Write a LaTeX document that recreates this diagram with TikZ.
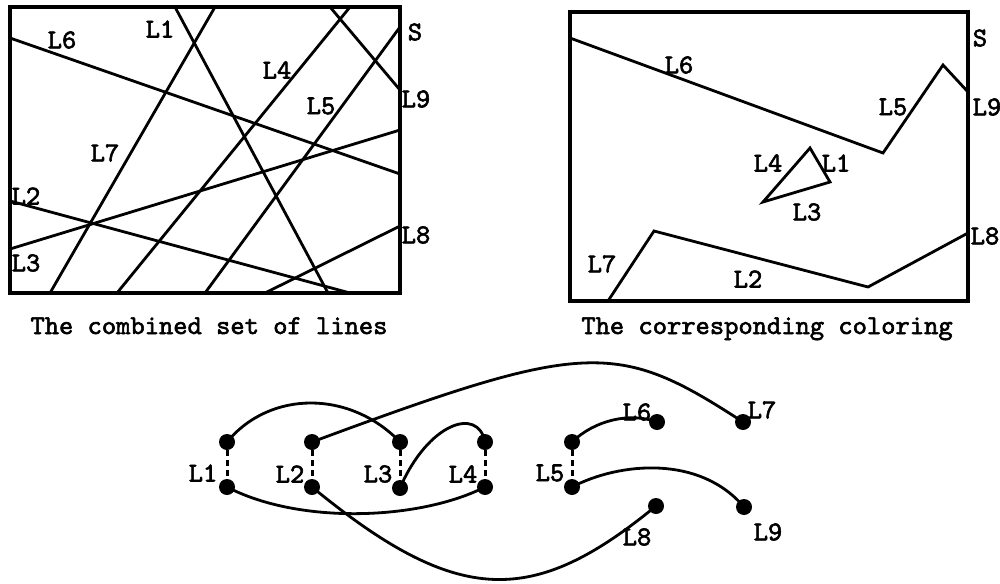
\documentclass[tikz,border=0pt]{standalone}
\usepackage{fontspec}
\newfontfamily\labfont{lmmono10-regular}[Extension=.otf, FakeBold=2.2]
\begin{document}
\begin{tikzpicture}[x=1pt,y=-1pt,
  lbl/.style={font=\labfont\bfseries\fontsize{27.2}{30}\selectfont, inner sep=0pt},
  captxt/.style={lbl, anchor=base},
  frame/.style={line width=3.2pt, line join=miter},
  seg/.style={line width=2.8pt, line cap=round, line join=miter},
  dot/.style={circle, fill=black, minimum size=16pt, inner sep=0pt},
  link/.style={line width=2.8pt},
  tie/.style={line width=3pt, dash pattern=on 6pt off 4pt}]
\useasboundingbox (0,0) rectangle (1000,583);

% ---------- left box: combined set of lines ----------
\draw[frame] (10,7) rectangle (400,293);
\draw[seg] (10,38) -- (400,174);   % L6
\draw[seg] (175,7) -- (328,293);   % L1
\draw[seg] (50,293) -- (215,7);    % L7
\draw[seg] (117,293) -- (350,7);   % L4
\draw[seg] (205,293) -- (400,27);  % L5
\draw[seg] (330,7) -- (400,90);    % L9
\draw[seg] (10,249) -- (400,130);  % L3
\draw[seg] (10,201) -- (350,293);  % L2
\draw[seg] (265,293) -- (400,226); % L8
\node[lbl] (tl1) at (160,29) {L1};
\node[lbl] (tl6) at (62,40) {L6};
\node[lbl] (tl7) at (105,153) {L7};
\node[lbl] (tl2) at (26,196) {L2};
\node[lbl] (tl3) at (26,263) {L3};
\node[lbl] (tl4) at (277,70) {L4};
\node[lbl] (tl5) at (321,106) {L5};
\node[lbl] (tls) at (415,32) {S};
\node[lbl] (tl9) at (416,99) {L9};
\node[lbl] (tl8) at (416,235) {L8};
\node[captxt] (capl) at (209,334) {The combined set of lines};

% ---------- right box: corresponding coloring ----------
\draw[frame] (570,12) rectangle (968,301);
\draw[seg] (570,38) -- (883,153) -- (943,65) -- (968,92);
\draw[seg] (763,202) -- (810,148) -- (830,182) -- cycle;
\draw[seg] (608,301) -- (654,231) -- (868,287) -- (968,233);
\node[lbl] (rl6) at (679,65) {L6};
\node[lbl] (rl5) at (893,107) {L5};
\node[lbl] (rls) at (980,38) {S};
\node[lbl] (rl9) at (987,107) {L9};
\node[lbl] (rl4) at (768,163) {L4};
\node[lbl] (rl1) at (836,163) {L1};
\node[lbl] (rl3) at (807,212) {L3};
\node[lbl] (rl7) at (602,264) {L7};
\node[lbl] (rl2) at (748,279) {L2};
\node[lbl] (rl8) at (985,236) {L8};
\node[captxt] (capr) at (767,334) {The corresponding coloring};

% ---------- bottom graph ----------
\node[dot] (a1t) at (227,442) {};
\node[dot] (a1b) at (227,487) {};
\node[dot] (a2t) at (312,442) {};
\node[dot] (a2b) at (312,487) {};
\node[dot] (a3t) at (400,442) {};
\node[dot] (a3b) at (400,488) {};
\node[dot] (a4t) at (485,442) {};
\node[dot] (a4b) at (485,487) {};
\node[dot] (a5t) at (572,442) {};
\node[dot] (a5b) at (572,487) {};
\node[dot] (a6) at (657,422) {};
\node[dot] (a7) at (743,422) {};
\node[dot] (a8) at (656,506) {};
\node[dot] (a9) at (744,507) {};

\draw[tie] (a1t) -- (a1b);
\draw[tie] (a2t) -- (a2b);
\draw[tie] (a3t) -- (a3b);
\draw[tie] (a4t) -- (a4b);
\draw[tie] (a5t) -- (a5b);

\draw[link] (a1t.center) .. controls (270,390) and (350,390) .. (a3t.center);
\draw[link] (a2t.center) .. controls (587,340) and (617,340) .. (a7.center);
\draw[link] (a3b.center) .. controls (428,423) and (478,406) .. (a4t.center);
\draw[link] (a1b.center) .. controls (300,525) and (420,520) .. (a4b.center);
\draw[link] (a2b.center) .. controls (458,607) and (533,607) .. (a8.center);
\draw[link] (a5t.center) .. controls (595,420) and (630,412) .. (a6.center);
\draw[link] (a5b.center) .. controls (620,462) and (700,455) .. (a9.center);

\node[lbl] (g1) at (203,473) {L1};
\node[lbl] (g2) at (290,474) {L2};
\node[lbl] (g3) at (378,474) {L3};
\node[lbl] (g4) at (463,474) {L4};
\node[lbl] (g5) at (550,473) {L5};
\node[lbl] (g6) at (637,412) {L6};
\node[lbl] (g7) at (762,410) {L7};
\node[lbl] (g8) at (637,537) {L8};
\node[lbl] (g9) at (768,532) {L9};
\end{tikzpicture}
\end{document}
